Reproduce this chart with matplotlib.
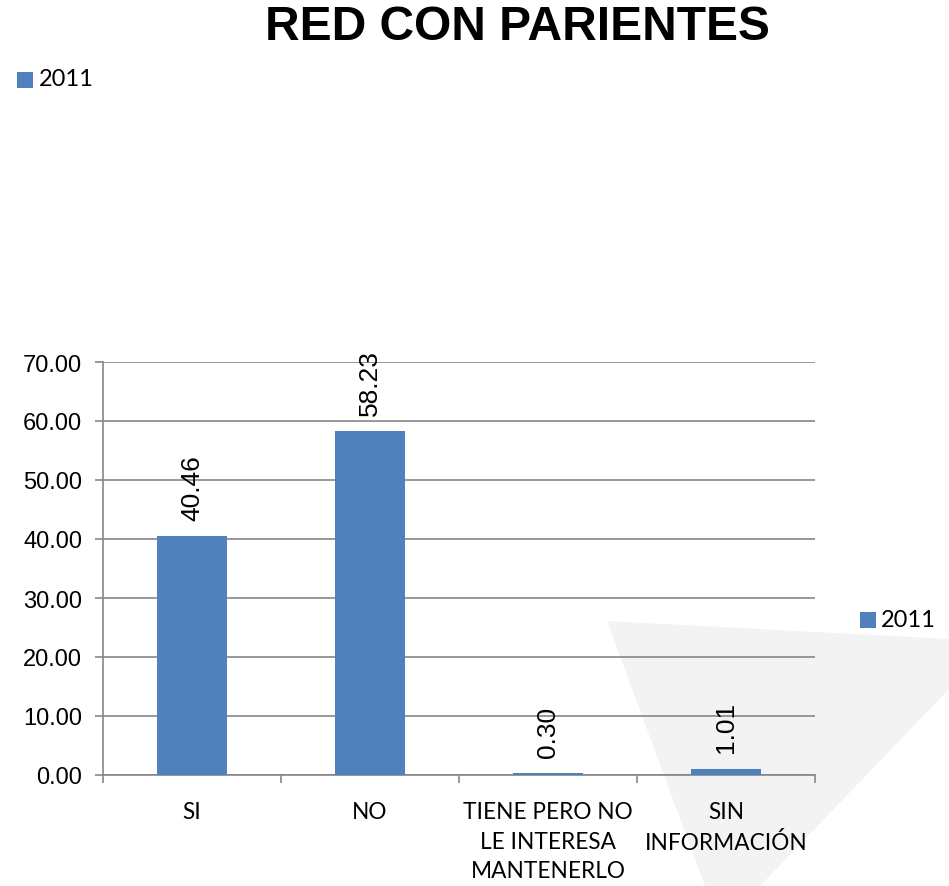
import matplotlib
matplotlib.use("Agg")
import matplotlib.pyplot as plt
from matplotlib.patches import Polygon, Rectangle
import numpy as np

categories = ["SI", "NO", "TIENE PERO NO\nLE INTERESA\nMANTENERLO", "SIN\nINFORMACIÓN"]
values_2011 = [40.46, 58.23, 0.30, 1.01]
yticks = [0, 10, 20, 30, 40, 50, 60, 70]
series_name = "2011"
title = "RED CON PARIENTES"

bar_color = "#4F81BD"
grid_color = "#868686"

W, H = 949, 887
fig = plt.figure(figsize=(W / 100, H / 100), dpi=100)
fig.patch.set_facecolor("white")

# faint page-curl decoration in background
curl = Polygon([(607 / W, 1 - 622 / H), (949 / W, 1 - 640 / H), (949 / W, 1 - 690 / H),
                (760 / W, 1 - 887 / H), (705 / W, 1 - 887 / H)],
               closed=True, transform=fig.transFigure, facecolor="#f3f3f3",
               edgecolor="none", zorder=-5)
fig.patches.append(curl)

ax = fig.add_axes([103 / W, 111 / H, (815 - 103) / W, (776 - 363) / H])
ax.set_facecolor("none")
ax.set_zorder(2)

x = np.arange(len(categories))
ax.bar(x, values_2011, width=0.395, color=bar_color, zorder=3)

ax.set_xlim(-0.5, len(categories) - 0.5)
ax.set_ylim(0, 70)
ax.set_yticks(yticks)
ax.set_yticklabels([f"{v:.2f}" for v in yticks], fontfamily="Liberation Sans", fontsize=17)
ax.yaxis.grid(True, color=grid_color, linewidth=1.2, zorder=1)
ax.set_axisbelow(True)

ax.set_xticks(x)
ax.set_xticklabels(categories, fontfamily="Lato", fontsize=16.3, linespacing=1.5, va="top")
ax.tick_params(axis="x", which="major", length=0, pad=19)
ax.set_xticks(np.arange(-0.5, len(categories), 1.0), minor=True)
ax.tick_params(axis="x", which="minor", length=6, width=1.2, color=grid_color, direction="out")
ax.tick_params(axis="y", length=6, width=1.2, color=grid_color, direction="out", pad=9)

for side in ["top", "right"]:
    ax.spines[side].set_visible(False)
for side in ["left", "bottom"]:
    ax.spines[side].set_color(grid_color)
    ax.spines[side].set_linewidth(1.2)

for xi, v in zip(x, values_2011):
    ax.annotate(f"{v:.2f}", xy=(xi, v), xytext=(0, 12), textcoords="offset points",
                rotation=90, ha="center", va="bottom", fontfamily="Liberation Sans",
                fontsize=19, zorder=4)

fig.text(517 / W, 1 - 27 / H, title, ha="center", va="center",
         fontfamily="Liberation Sans", fontweight="bold", fontsize=34.5)

# top-left legend
fig.patches.append(Rectangle((17 / W, 1 - 89 / H), 16 / W, 16 / H,
                             transform=fig.transFigure, facecolor=bar_color, edgecolor="none"))
fig.text(39 / W, 1 - 80 / H, series_name, ha="left", va="center", fontfamily="Lato", fontsize=17)

# right legend
fig.patches.append(Rectangle((860 / W, 1 - 629 / H), 16 / W, 16 / H,
                             transform=fig.transFigure, facecolor=bar_color, edgecolor="none"))
fig.text(881 / W, 1 - 621 / H, series_name, ha="left", va="center", fontfamily="Lato", fontsize=17)

fig.savefig("out.png", dpi=100)
